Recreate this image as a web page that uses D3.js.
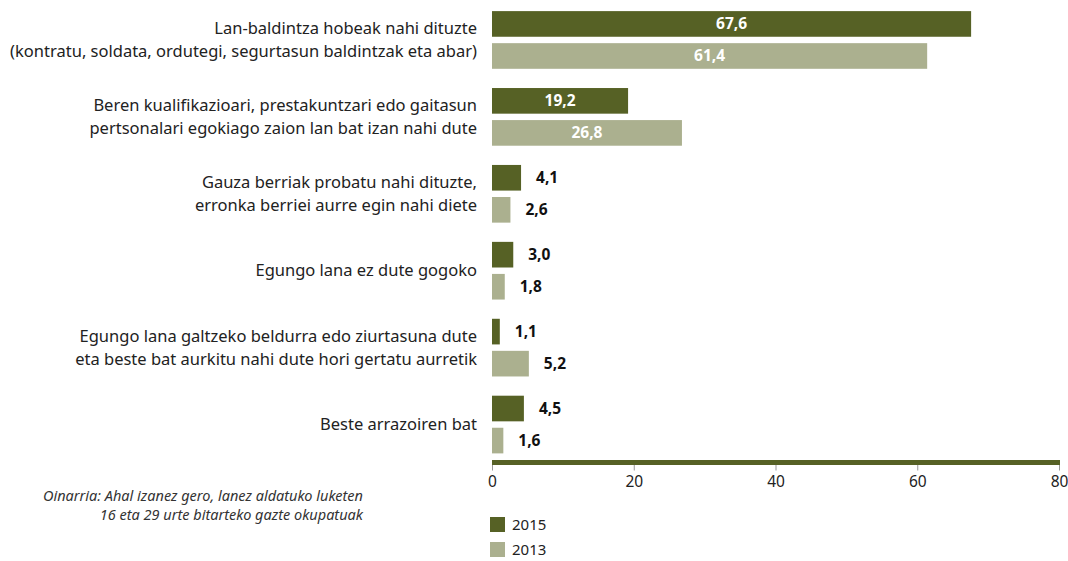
<!DOCTYPE html>
<html><head><meta charset="utf-8">
<script src="https://cdn.jsdelivr.net/npm/d3@7"></script>
<style>
html,body{margin:0;padding:0;background:#fff;}
svg{display:block;}
text{font-family:"Noto Sans","Open Sans",sans-serif;}
</style></head>
<body>
<svg id="chart" width="1068" height="561"></svg>
<script>
const categories = [
  ["Lan-baldintza hobeak nahi dituzte","(kontratu, soldata, ordutegi, segurtasun baldintzak eta abar)"],
  ["Beren kualifikazioari, prestakuntzari edo gaitasun","pertsonalari egokiago zaion lan bat izan nahi dute"],
  ["Gauza berriak probatu nahi dituzte,","erronka berriei aurre egin nahi diete"],
  ["Egungo lana ez dute gogoko"],
  ["Egungo lana galtzeko beldurra edo ziurtasuna dute","eta beste bat aurkitu nahi dute hori gertatu aurretik"],
  ["Beste arrazoiren bat"]
];
const seriesNames = ["2015","2013"];
const values2015 = [67.6, 19.2, 4.1, 3.0, 1.1, 4.5];
const values2013 = [61.4, 26.8, 2.6, 1.8, 5.2, 1.6];
const xTicks = [0, 20, 40, 60, 80];
const footnote = ["Oinarria: Ahal izanez gero, lanez aldatuko luketen","16 eta 29 urte bitarteko gazte okupatuak"];

const colors = {"2015":"#566125","2013":"#abb08f"};
const svg = d3.select("#chart");
const catIdx = d3.range(categories.length);
const x = d3.scaleLinear().domain([0,80]).range([492,1059]);
const y0 = d3.scaleBand().domain(catIdx).range([1.5,463]).paddingInner(0.25).paddingOuter(0.125);
const y1 = d3.scaleBand().domain(seriesNames).range([0,y0.bandwidth()]).paddingInner(0.2);
const fmt = v => d3.format(".1f")(v).replace(".", ",");

const data = catIdx.map(i => ({i, vals:[{s:"2015",v:values2015[i]},{s:"2013",v:values2013[i]}]}));

const g = svg.selectAll("g.cat").data(data).join("g").attr("class","cat")
  .attr("transform", d => `translate(0,${y0(d.i)})`);

g.selectAll("rect").data(d => d.vals).join("rect")
  .attr("x", x(0)).attr("y", d => y1(d.s))
  .attr("width", d => x(d.v)-x(0)).attr("height", y1.bandwidth())
  .attr("fill", d => colors[d.s]);

g.selectAll("text.val").data(d => d.vals).join("text").attr("class","val")
  .attr("x", d => d.v > 10 ? (x(0)+x(d.v))/2 : x(d.v)+15)
  .attr("y", d => y1(d.s)+y1.bandwidth()/2)
  .attr("dy","0.35em")
  .attr("text-anchor", d => d.v > 10 ? "middle" : "start")
  .attr("fill", d => d.v > 10 ? "#ffffff" : "#111111")
  .style("font-weight","bold").style("font-size","15.5px")
  .text(d => fmt(d.v));

// category labels
g.each(function(d){
  const lines = categories[d.i];
  const cy = y0.bandwidth()/2;
  const lh = 23;
  const t = d3.select(this).append("text")
    .attr("text-anchor","end").attr("fill","#222")
    .style("font-size","16.5px");
  lines.forEach((ln,k)=>{
    t.append("tspan").attr("x",477)
      .attr("y", cy + (k - (lines.length-1)/2)*lh)
      .attr("dy","0.35em").text(ln);
  });
});

// axis
const axisY = 462.5;
const ax = svg.append("g").attr("transform",`translate(0,${axisY})`)
  .call(d3.axisBottom(x).tickValues(xTicks).tickSize(8).tickFormat(d3.format("d")));
ax.select(".domain").remove();
ax.selectAll(".tick line").attr("stroke","#999");
ax.selectAll(".tick text").attr("fill","#222").style("font-size","15.5px").attr("y",13);
svg.append("line").attr("x1",x(0)).attr("x2",x(80)+1).attr("y1",axisY).attr("y2",axisY)
  .attr("stroke",colors["2015"]).attr("stroke-width",5);

// footnote
const fn = svg.append("text").attr("text-anchor","end").attr("fill","#333")
  .style("font-size","14.5px").style("font-style","italic");
footnote.forEach((ln,k)=>{
  fn.append("tspan").attr("x",363).attr("y",501+k*19).text(ln);
});

// legend
const lg = svg.selectAll("g.leg").data(seriesNames).join("g").attr("class","leg")
  .attr("transform",(d,i)=>`translate(490,${517+i*25})`);
lg.append("rect").attr("width",15).attr("height",15).attr("fill",d=>colors[d]);
lg.append("text").attr("x",22).attr("y",8).attr("dy","0.35em").attr("fill","#222")
  .style("font-size","15px").text(d=>d);
</script>
</body></html>
